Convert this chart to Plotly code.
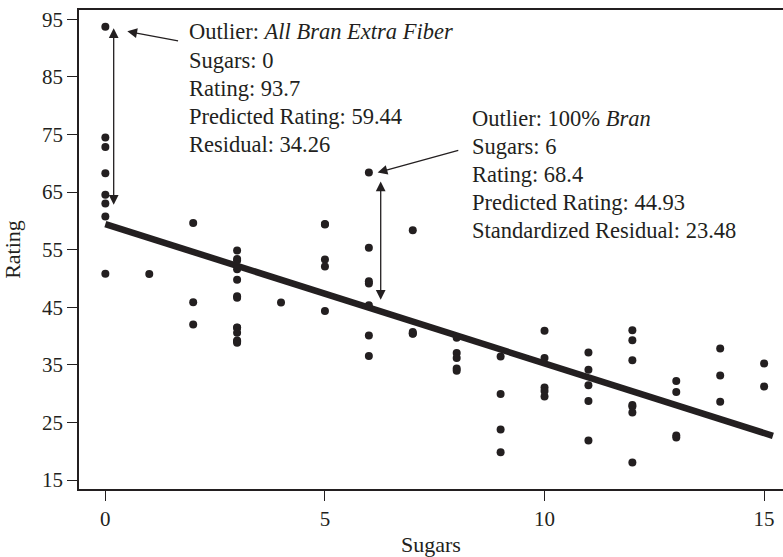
import plotly.graph_objects as go

# Cereal data: sugars (g) and nutritional rating
sugars = [6, 8, 5, 0, 8, 10, 14, 8, 6, 5, 12, 1, 9, 7, 13, 3, 2, 12, 13, 7,
          0, 3, 10, 5, 13, 11, 7, 10, 12, 12, 15, 9, 5, 3, 4, 11, 10, 11, 6, 9,
          3, 6, 12, 3, 11, 11, 13, 6, 9, 7, 2, 10, 14, 3, 0, 0, 6, 0, 12, 8,
          6, 2, 3, 0, 0, 0, 15, 3, 5, 3, 14, 3, 3, 12, 3, 3, 8]
rating = [68.40, 33.98, 59.43, 93.70, 34.38, 29.51, 33.17, 37.04, 49.12, 53.31,
          18.04, 50.76, 19.82, 40.40, 22.74, 41.45, 45.86, 35.78, 22.40, 40.45,
          64.53, 46.90, 36.18, 44.33, 32.21, 31.44, 58.35, 40.92, 41.02, 28.03,
          35.25, 23.80, 52.08, 53.37, 45.81, 21.87, 31.07, 28.74, 36.52, 36.47,
          39.24, 45.33, 26.73, 54.85, 37.14, 34.14, 30.31, 40.11, 29.92, 40.69,
          59.64, 30.45, 37.84, 41.50, 60.76, 63.01, 49.51, 50.83, 39.26, 39.70,
          55.33, 41.99, 40.56, 68.24, 74.47, 72.80, 31.23, 53.13, 59.36, 38.84,
          28.59, 46.66, 39.11, 27.75, 49.79, 51.59, 36.19]

# Fitted regression line end points (sugars, predicted rating)
fit_sugars = [0, 15.2]
fit_rating = [59.44, 22.68]

x_ticks = [0, 5, 10, 15]
y_ticks = [15, 25, 35, 45, 55, 65, 75, 85, 95]

note1 = ["Outlier: <i>All Bran Extra Fiber</i>", "Sugars: 0", "Rating: 93.7",
         "Predicted Rating: 59.44", "Residual: 34.26"]
note2 = ["Outlier: 100% <i>Bran</i>", "Sugars: 6", "Rating: 68.4",
         "Predicted Rating: 44.93", "Standardized Residual: 23.48"]

INK = "#231f20"
FONT = "Liberation Serif, Times New Roman, serif"

fig = go.Figure()
fig.add_trace(go.Scatter(x=fit_sugars, y=fit_rating, mode="lines",
                         line=dict(color=INK, width=6.5), hoverinfo="skip",
                         showlegend=False))
fig.add_trace(go.Scatter(x=sugars, y=rating, mode="markers",
                         marker=dict(color=INK, size=8), showlegend=False))

W, H = 783, 557
L, R, T, B = 79, 0, 10, 68
ph = H - T - B


def py(pix):
    return (H - B - pix) / ph


def px(pix):
    return (pix - L) / (W - L - R)


annots = []
for i, t in enumerate(note1):
    annots.append(dict(text=t, xref="paper", yref="paper", x=px(187), y=py(32 + 28 * i),
                       xanchor="left", yanchor="middle", showarrow=False,
                       font=dict(family=FONT, size=22.5, color=INK)))
for i, t in enumerate(note2):
    annots.append(dict(text=t, xref="paper", yref="paper", x=px(470), y=py(118.5 + 28 * i),
                       xanchor="left", yanchor="middle", showarrow=False,
                       font=dict(family=FONT, size=22.5, color=INK)))

arrow_common = dict(text="", showarrow=True, xref="x", yref="y", axref="x", ayref="y",
                    arrowcolor=INK, arrowwidth=1.3, arrowhead=2, arrowsize=1.5, standoff=0,
                    startstandoff=0)
# single pointer arrows
annots.append(dict(x=0.50, y=92.9, ax=1.69, ay=91.2, **arrow_common))
annots.append(dict(x=6.20, y=68.4, ax=8.07, ay=72.3, **arrow_common))
# double-headed residual arrows
annots.append(dict(x=0.19, y=62.8, ax=0.19, ay=93.7, arrowside="end+start",
                   startarrowhead=2, startarrowsize=1.5, **arrow_common))
annots.append(dict(x=6.27, y=46.3, ax=6.27, ay=67.1, arrowside="end+start",
                   startarrowhead=2, startarrowsize=1.5, **arrow_common))

fig.update_layout(
    width=W, height=H,
    margin=dict(l=L, r=R, t=T, b=B, autoexpand=False),
    paper_bgcolor="white", plot_bgcolor="white",
    font=dict(family=FONT, size=21, color=INK),
    annotations=annots,
    xaxis=dict(range=[-0.6, 15.43], tickvals=x_ticks, ticks="outside", ticklen=10,
               tickwidth=1.2, tickcolor=INK, showline=True, linecolor=INK, linewidth=1.6,
               mirror=True, showgrid=False, zeroline=False, automargin=False,
               ticklabeloverflow="allow",
               title=dict(text="Sugars", font=dict(size=22), standoff=14)),
    yaxis=dict(range=[13.45, 96.6], tickvals=y_ticks, ticks="outside", ticklen=10,
               tickwidth=1.2, tickcolor=INK, showline=True, linecolor=INK, linewidth=1.5,
               showgrid=False, zeroline=False, automargin=False, ticklabeloverflow="allow",
               title=dict(text="Rating", font=dict(size=22), standoff=20)),
)

# remove the browser's default 8px page margin so the figure fills the window
fig.write_html("out.html", config={"displayModeBar": False},
               post_script="document.body.style.margin='0';document.body.style.overflow='hidden';")
